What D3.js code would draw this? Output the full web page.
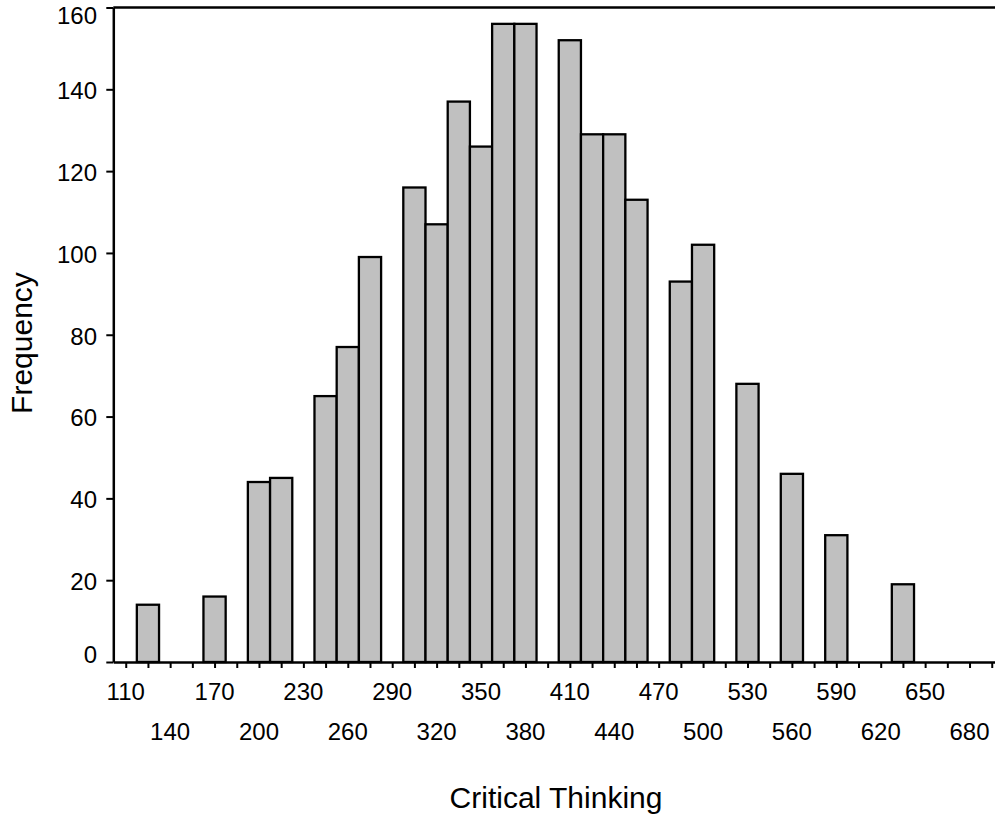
<!DOCTYPE html>
<html>
<head>
<meta charset="utf-8">
<script src="https://cdn.jsdelivr.net/npm/d3@7/dist/d3.min.js"></script>
<style>
  html, body { margin: 0; padding: 0; background: #ffffff; }
  svg { display: block; }
  text { font-family: "Liberation Sans", Arial, sans-serif; fill: #000; }
</style>
</head>
<body>
<div id="chart"></div>
<script>
// Bin centres (width 15) of Critical Thinking scores and their frequencies
const binCenters = [125, 140, 155, 170, 185, 200, 215, 230, 245, 260, 275, 290, 305, 320, 335, 350, 365, 380, 395, 410, 425, 440, 455, 470, 485, 500, 515, 530, 545, 560, 575, 590, 605, 620, 635, 650, 665, 680];
const frequencies = [14, 0, 0, 16, 0, 44, 45, 0, 65, 77, 99, 0, 116, 107, 137, 126, 156, 156, 0, 152, 129, 129, 113, 0, 93, 102, 0, 68, 0, 46, 0, 31, 0, 0, 19, 0, 0, 0];
const binWidth = 15;
const xTickValues = d3.range(110, 696, 15);
const xLabelValues = [110, 140, 170, 200, 230, 260, 290, 320, 350, 380, 410, 440, 470, 500, 530, 560, 590, 620, 650, 680];
const yTickValues = [0, 20, 40, 60, 80, 100, 120, 140, 160];
const xTitle = "Critical Thinking";
const yTitle = "Frequency";

const W = 995, H = 836;
const pLeft = 113.3, pRight = 995, pTop = 7.5, pBottom = 662;

const svg = d3.select("#chart").append("svg").attr("width", W).attr("height", H);

const x = d3.scaleLinear().domain([101.6, 697.2]).range([pLeft, pRight]);
const y = d3.scaleLinear().domain([0, 160]).range([pBottom, pTop]);

// bars
svg.append("g").selectAll("rect")
  .data(binCenters.map((c, i) => ({ c, f: frequencies[i] })).filter(d => d.f > 0))
  .join("rect")
  .attr("x", d => x(d.c - binWidth / 2))
  .attr("width", d => x(d.c + binWidth / 2) - x(d.c - binWidth / 2))
  .attr("y", d => y(d.f))
  .attr("height", d => y(0) - y(d.f))
  .attr("fill", "#c0c0c0")
  .attr("stroke", "#000")
  .attr("stroke-width", 2.3);

// top frame line
svg.append("line")
  .attr("x1", pLeft).attr("x2", pRight)
  .attr("y1", pTop).attr("y2", pTop)
  .attr("stroke", "#000").attr("stroke-width", 2.5);

// y axis
const yAxis = svg.append("g").attr("transform", `translate(${pLeft},0)`)
  .call(d3.axisLeft(y).tickValues(yTickValues).tickSize(7).tickSizeOuter(0).tickFormat(""));
yAxis.select(".domain").attr("stroke-width", 2.5);
yAxis.selectAll(".tick line").attr("stroke-width", 2);

svg.append("g").selectAll("text")
  .data(yTickValues)
  .join("text")
  .attr("x", 97)
  .attr("y", d => Math.min(Math.max(y(d) + 1.5, 16), 655))
  .attr("dy", "0.35em")
  .attr("text-anchor", "end")
  .attr("font-size", 24)
  .text(d => d);

// x axis
const xAxis = svg.append("g").attr("transform", `translate(0,${pBottom})`)
  .call(d3.axisBottom(x).tickValues(xTickValues).tickSize(6).tickSizeOuter(0).tickFormat(""));
xAxis.select(".domain").attr("stroke-width", 2.5);
xAxis.selectAll(".tick line").attr("stroke-width", 2);

svg.append("g").selectAll("text")
  .data(xLabelValues)
  .join("text")
  .attr("x", d => x(d))
  .attr("y", (d, i) => i % 2 === 0 ? 700 : 740)
  .attr("text-anchor", "middle")
  .attr("font-size", 24)
  .text(d => d);

// titles
svg.append("text")
  .attr("x", 556).attr("y", 808)
  .attr("text-anchor", "middle")
  .attr("font-size", 30)
  .text(xTitle);

svg.append("text")
  .attr("transform", "translate(32,343) rotate(-90)")
  .attr("text-anchor", "middle")
  .attr("font-size", 30)
  .text(yTitle);
</script>
</body>
</html>
